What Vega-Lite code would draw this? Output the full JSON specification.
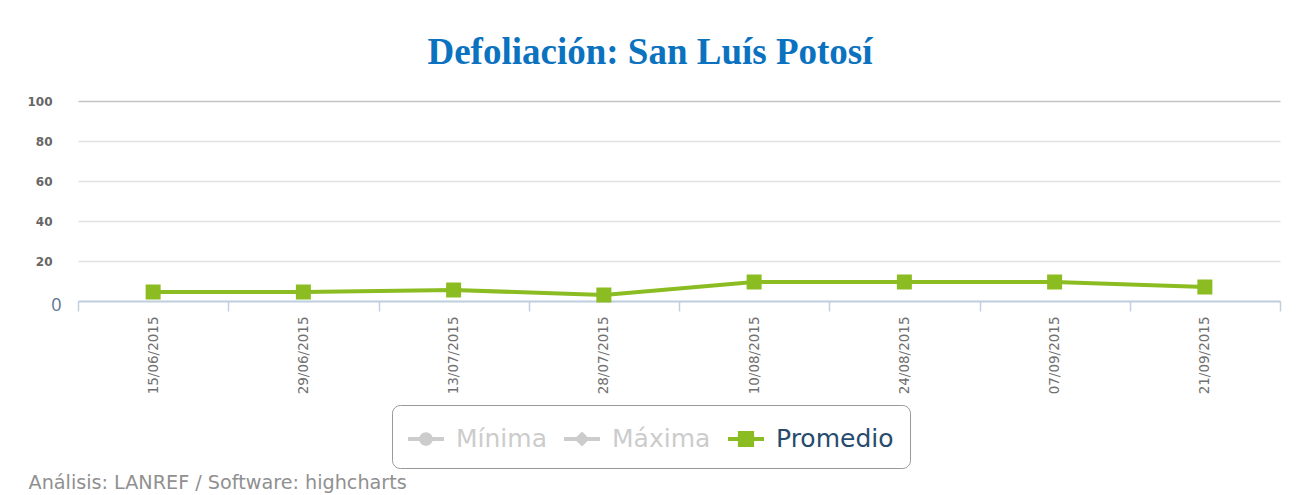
{
  "$schema": "https://vega.github.io/schema/vega-lite/v6.json",
  "autosize": "none",
  "width": 1202,
  "height": 200,
  "padding": {"left": 78, "top": 101, "right": 19, "bottom": 194},
  "background": "white",
  "title": {
    "text": "Defoliación: San Luís Potosí",
    "font": "Liberation Serif",
    "fontSize": 37,
    "fontWeight": "bold",
    "color": "#0b72c0",
    "anchor": "middle",
    "dx": -29,
    "baseline": "alphabetic",
    "offset": -6
  },
  "config": {
    "view": {"stroke": null}
  },
  "data": {
    "values": [
      {"fecha": "15/06/2015", "valor": 4.5, "serie": "Promedio"},
      {"fecha": "29/06/2015", "valor": 4.5, "serie": "Promedio"},
      {"fecha": "13/07/2015", "valor": 5.5, "serie": "Promedio"},
      {"fecha": "28/07/2015", "valor": 3.0, "serie": "Promedio"},
      {"fecha": "10/08/2015", "valor": 9.5, "serie": "Promedio"},
      {"fecha": "24/08/2015", "valor": 9.5, "serie": "Promedio"},
      {"fecha": "07/09/2015", "valor": 9.5, "serie": "Promedio"},
      {"fecha": "21/09/2015", "valor": 7.0, "serie": "Promedio"}
    ]
  },
  "encoding": {
    "x": {
      "field": "fecha",
      "type": "ordinal",
      "sort": null,
      "scale": {"type": "band", "paddingInner": 0, "paddingOuter": 0},
      "axis": {
        "title": "Análisis: LANREF / Software: highcharts",
        "titleFont": "DejaVu Sans",
        "titleFontSize": 19.2,
        "titleFontWeight": "normal",
        "titleColor": "#909090",
        "titleAnchor": "start",
        "titleAlign": "left",
        "titleBaseline": "middle",
        "titleX": -50,
        "titleY": 181,
        "labelAngle": -90,
        "labelFont": "DejaVu Sans",
        "labelFontSize": 13.5,
        "labelColor": "#707070",
        "labelPadding": 5,
        "tickBand": "extent",
        "tickSize": 10,
        "tickColor": "#c0d0e0",
        "tickWidth": 1.5,
        "domainColor": "#c0d0e0",
        "domainWidth": 2,
        "grid": false
      }
    },
    "y": {
      "field": "valor",
      "type": "quantitative",
      "scale": {"domain": [0, 100], "nice": false},
      "axis": {
        "title": null,
        "values": [0, 20, 40, 60, 80, 100],
        "domain": false,
        "ticks": false,
        "labelFont": {"condition": {"test": "datum.value == 0", "value": "Open Sans"}, "value": "DejaVu Sans"},
        "labelFontWeight": {"condition": {"test": "datum.value == 0", "value": "normal"}, "value": "bold"},
        "labelFontSize": {"condition": {"test": "datum.value == 0", "value": 18}, "value": 12},
        "labelColor": {"condition": {"test": "datum.value == 0", "value": "#5a7391"}, "value": "#666666"},
        "labelPadding": {"condition": {"test": "datum.value == 0", "value": 17}, "value": 26},
        "labelOffset": {"condition": {"test": "datum.value == 0", "value": 4}, "value": 0},
        "gridColor": {"condition": {"test": "datum.value == 100", "value": "#c4c4c4"}, "value": "#e2e2e2"},
        "gridWidth": 1.5
      }
    }
  },
  "layer": [
    {
      "mark": {"type": "line", "color": "#8bbc21", "strokeWidth": 4}
    },
    {
      "mark": {"type": "point", "shape": "square", "filled": true, "opacity": 1, "color": "#8bbc21", "size": 225}
    },
    {
      "transform": [{"filter": "false"}],
      "mark": {"type": "point", "filled": true, "opacity": 1},
      "encoding": {
        "color": {
          "field": "serie",
          "type": "nominal",
          "scale": {"domain": ["Mínima", "Máxima", "Promedio"], "range": ["#cccccc", "#cccccc", "#8bbc21"]},
          "legend": {
            "orient": "none",
            "legendX": 314,
            "legendY": 304,
            "direction": "horizontal",
            "title": null,
            "labelFont": "DejaVu Sans",
            "labelFontSize": 25,
            "labelOffset": 12,
            "labelLimit": 300,
            "labelColor": {"expr": "datum.label === 'Promedio' ? '#274b6d' : '#cccccc'"},
            "columnPadding": 17,
            "symbolSize": 1296,
            "symbolStrokeWidth": 0,
            "padding": 16,
            "fillColor": "white",
            "strokeColor": "#999999",
            "cornerRadius": 8,
            "encode": {
              "legend": {"update": {"strokeWidth": {"value": 2}}}
            }
          }
        },
        "shape": {
          "field": "serie",
          "type": "nominal",
          "scale": {
            "domain": ["Mínima", "Máxima", "Promedio"],
            "range": [
              "M-1,-0.11H1V0.11H-1Z M0.38,0A0.38,0.38,0,1,1,-0.38,0A0.38,0.38,0,1,1,0.38,0Z",
              "M-1,-0.11H1V0.11H-1Z M0,-0.42L0.42,0L0,0.42L-0.42,0Z",
              "M-1,-0.11H1V0.11H-1Z M-0.45,-0.45H0.45V0.45H-0.45Z"
            ]
          }
        }
      }
    }
  ]
}
